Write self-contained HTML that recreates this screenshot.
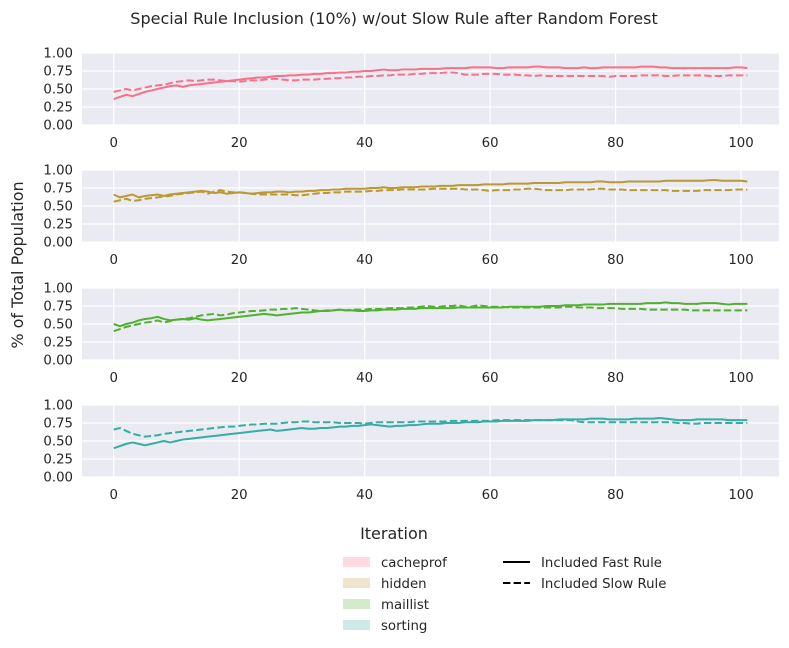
<!DOCTYPE html>
<html><head><meta charset="utf-8"><style>
body{margin:0;background:#fff;}
svg{display:block;font-family:"DejaVu Sans","Liberation Sans",sans-serif;}
</style></head><body>
<svg id="chart" width="789" height="648" viewBox="0 0 789 648" xmlns="http://www.w3.org/2000/svg">
<text x="394" y="24" text-anchor="middle" font-size="16" fill="#262626">Special Rule Inclusion (10%) w/out Slow Rule after Random Forest</text>
<text transform="translate(23,265) rotate(-90)" text-anchor="middle" font-size="16" fill="#262626">% of Total Population</text>
<text x="394" y="539" text-anchor="middle" font-size="16" fill="#262626">Iteration</text>
<g id="panels"></g>
<g id="legend"></g>
</svg>
<script>
const names = ["cacheprof","hidden","maillist","sorting"];
const colors = ["#f77189","#bb9832","#50b131","#36ada4"];
const xTicks = [0,20,40,60,80,100];
const yTicks = [0,0.25,0.5,0.75,1];
const yTickLabels = ["0.00","0.25","0.50","0.75","1.00"];
const cacheprofFast = [.36,.39,.42,.40,.43,.46,.48,.50,.52,.54,.55,.53,.55,.56,.57,.58,.59,.60,.61,.62,.63,.64,.65,.66,.66,.67,.68,.68,.69,.69,.70,.70,.71,.71,.72,.72,.73,.73,.74,.74,.75,.75,.76,.77,.76,.76,.77,.77,.77,.78,.78,.78,.78,.79,.79,.79,.79,.80,.80,.80,.80,.79,.79,.80,.80,.80,.80,.81,.81,.80,.80,.80,.79,.79,.79,.80,.79,.79,.80,.80,.80,.80,.80,.80,.81,.81,.81,.80,.80,.79,.79,.79,.79,.79,.79,.79,.79,.79,.79,.80,.80,.79];
const cacheprofSlow = [.46,.48,.50,.48,.50,.52,.54,.55,.56,.58,.60,.61,.62,.61,.62,.63,.63,.62,.61,.61,.60,.61,.62,.62,.63,.64,.64,.63,.62,.62,.63,.63,.63,.64,.64,.65,.65,.66,.66,.67,.67,.68,.68,.69,.69,.70,.70,.70,.71,.71,.72,.72,.72,.73,.73,.72,.70,.70,.70,.71,.71,.71,.70,.70,.70,.69,.69,.68,.69,.68,.68,.68,.68,.68,.68,.68,.68,.68,.68,.67,.68,.68,.68,.68,.69,.69,.69,.69,.68,.68,.69,.69,.69,.69,.69,.68,.68,.68,.69,.69,.69,.69];
const hiddenFast = [.66,.62,.64,.66,.62,.64,.65,.66,.64,.66,.67,.68,.69,.70,.71,.70,.68,.69,.67,.68,.69,.68,.67,.68,.69,.69,.70,.70,.69,.70,.70,.71,.71,.72,.72,.73,.73,.74,.74,.74,.74,.75,.75,.76,.75,.75,.76,.76,.76,.77,.77,.77,.78,.78,.78,.79,.79,.79,.79,.80,.80,.80,.80,.81,.81,.81,.81,.82,.82,.82,.82,.82,.83,.83,.83,.83,.83,.84,.84,.83,.83,.83,.84,.84,.84,.84,.84,.84,.85,.85,.85,.85,.85,.85,.85,.86,.86,.85,.85,.85,.85,.84];
const hiddenSlow = [.56,.58,.60,.57,.58,.60,.61,.62,.63,.64,.66,.67,.68,.69,.70,.67,.70,.72,.70,.69,.69,.68,.67,.66,.66,.66,.66,.66,.66,.65,.65,.66,.67,.68,.68,.69,.69,.70,.70,.70,.70,.71,.71,.72,.72,.72,.73,.73,.73,.73,.73,.74,.74,.74,.74,.74,.73,.73,.73,.72,.71,.72,.72,.72,.73,.73,.74,.74,.73,.72,.72,.72,.72,.73,.73,.73,.73,.74,.74,.73,.73,.73,.72,.72,.72,.72,.72,.72,.72,.71,.71,.71,.71,.71,.72,.72,.72,.72,.72,.73,.73,.73];
const maillistFast = [.50,.47,.50,.52,.55,.57,.58,.60,.57,.55,.56,.57,.56,.58,.56,.55,.56,.57,.58,.59,.60,.61,.62,.63,.64,.63,.62,.63,.64,.65,.66,.66,.67,.68,.68,.69,.70,.69,.69,.68,.68,.69,.69,.70,.70,.70,.71,.71,.71,.72,.72,.72,.72,.72,.72,.73,.73,.73,.73,.73,.73,.73,.73,.74,.74,.74,.74,.74,.74,.75,.75,.75,.76,.76,.76,.77,.77,.77,.77,.78,.78,.78,.78,.78,.78,.79,.79,.79,.80,.79,.79,.78,.78,.78,.79,.79,.79,.78,.77,.78,.78,.78];
const maillistSlow = [.40,.43,.46,.48,.50,.52,.53,.55,.52,.54,.56,.57,.58,.60,.62,.63,.64,.62,.63,.65,.66,.67,.68,.68,.69,.70,.70,.71,.71,.72,.71,.70,.69,.68,.69,.69,.70,.69,.70,.70,.70,.71,.71,.71,.72,.72,.72,.73,.73,.74,.75,.74,.74,.75,.75,.76,.74,.74,.76,.75,.74,.74,.74,.73,.73,.73,.73,.73,.73,.73,.73,.73,.74,.74,.73,.73,.73,.72,.72,.72,.72,.71,.71,.71,.71,.70,.70,.70,.70,.70,.70,.70,.69,.69,.69,.69,.69,.69,.69,.69,.69,.69];
const sortingFast = [.40,.43,.46,.48,.46,.44,.46,.48,.50,.48,.50,.52,.53,.54,.55,.56,.57,.58,.59,.60,.61,.62,.63,.64,.65,.66,.64,.65,.66,.67,.68,.67,.67,.68,.68,.69,.70,.70,.71,.71,.72,.73,.72,.71,.70,.71,.71,.72,.72,.73,.74,.74,.74,.75,.75,.75,.76,.76,.76,.77,.77,.77,.78,.78,.78,.78,.78,.79,.79,.79,.79,.80,.80,.80,.80,.80,.81,.81,.81,.80,.80,.80,.80,.81,.81,.81,.81,.82,.81,.80,.79,.79,.79,.80,.80,.80,.80,.80,.79,.79,.79,.79];
const sortingSlow = [.66,.68,.64,.60,.58,.56,.57,.58,.60,.61,.62,.63,.64,.65,.66,.67,.68,.69,.70,.70,.71,.72,.73,.73,.74,.74,.74,.75,.76,.76,.77,.77,.76,.76,.76,.76,.75,.75,.75,.75,.74,.75,.76,.76,.76,.76,.76,.76,.77,.77,.77,.77,.77,.77,.78,.78,.78,.78,.78,.78,.78,.79,.79,.79,.79,.79,.79,.79,.79,.79,.79,.79,.79,.79,.77,.76,.76,.76,.76,.76,.76,.76,.76,.76,.76,.76,.76,.76,.76,.76,.75,.75,.74,.74,.75,.75,.75,.75,.75,.75,.75,.75];
const fastSeries = [cacheprofFast, hiddenFast, maillistFast, sortingFast];
const slowSeries = [cacheprofSlow, hiddenSlow, maillistSlow, sortingSlow];

const NS = "http://www.w3.org/2000/svg";
function mk(tag, attrs, parent){const e=document.createElementNS(NS,tag);for(const k in attrs)e.setAttribute(k,attrs[k]);parent.appendChild(e);return e;}
const L=82,R=779,H=72, tops=[53,170,288,405];
const xMin=-5.05,xMax=106.05;
const xs = v => L+(v-xMin)/(xMax-xMin)*(R-L);
const panels=document.getElementById('panels');
names.forEach((nm,p)=>{
  const top=tops[p];
  const ys = v => top+H-v*H;
  const g=mk('g',{},panels);
  
  
  const bg=mk('rect',{x:L,y:top,width:R-L,height:H,fill:'#eaeaf2'},g);
  
  
  yTicks.forEach((t,i)=>{
    const gl=mk('line',{x1:L,x2:R,y1:ys(t),y2:ys(t),stroke:'#fff','stroke-width':1.2},g);
    
    
    const tl=mk('text',{x:L-9,y:ys(t)+4.5,'text-anchor':'end','font-size':13.3,fill:'#262626'},g);
    tl.textContent=yTickLabels[i];
    
    
  });
  xTicks.forEach(t=>{
    const gl=mk('line',{x1:xs(t),x2:xs(t),y1:top,y2:top+H,stroke:'#fff','stroke-width':1.2},g);
    
    
    const tl=mk('text',{x:xs(t),y:top+H+22,'text-anchor':'middle','font-size':13.3,fill:'#262626'},g);
    tl.textContent=String(t);
    
    
  });
  const path = arr => arr.map((v,i)=>(i?'L':'M')+xs(i).toFixed(2)+','+ys(v).toFixed(2)).join('');
  const sl=mk('path',{d:path(slowSeries[p]),fill:'none',stroke:colors[p],'stroke-width':2,'stroke-dasharray':'7.4,3.2','stroke-linejoin':'round'},g);
  
  
  const fl=mk('path',{d:path(fastSeries[p]),fill:'none',stroke:colors[p],'stroke-width':2,'stroke-linejoin':'round'},g);
  
  
});
const lg=document.getElementById('legend');
names.forEach((nm,i)=>{
  const y=562+i*21;
  const r=mk('rect',{x:343,y:y-5,width:27,height:10,fill:colors[i],'fill-opacity':0.25},lg);
  
  
  const t=mk('text',{x:381,y:y+5,'font-size':13.3,fill:'#262626'},lg);
  t.textContent=nm;
  
  
});
[["Included Fast Rule",""],["Included Slow Rule","7.4,3.2"]].forEach((e,i)=>{
  const y=562+i*21;
  const ln=mk('line',{x1:503,x2:530,y1:y,y2:y,stroke:'#000','stroke-width':2},lg);
  if(e[1]) ln.setAttribute('stroke-dasharray',e[1]);
  
  
  const t=mk('text',{x:541,y:y+5,'font-size':13.3,fill:'#262626'},lg);
  t.textContent=e[0];
  
  
});
</script>
</body></html>
